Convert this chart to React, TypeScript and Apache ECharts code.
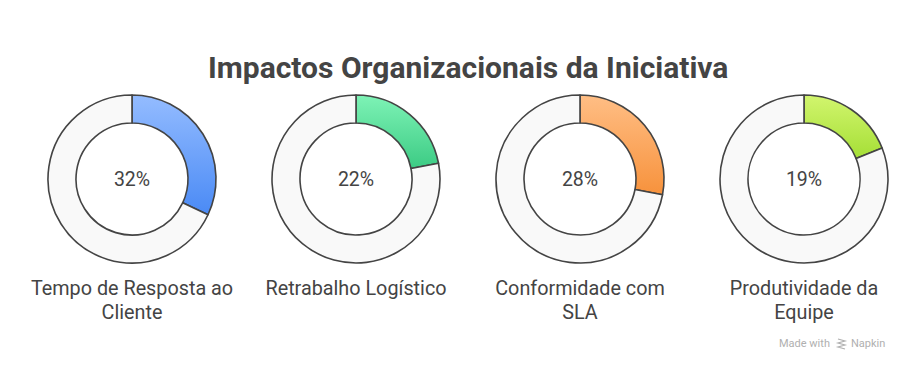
import React, { useEffect, useRef } from "react";
import * as echarts from "echarts";

const title = "Impactos Organizacionais da Iniciativa";
const categories = [
  "Tempo de Resposta ao\nCliente",
  "Retrabalho Logístico",
  "Conformidade com\nSLA",
  "Produtividade da\nEquipe",
];
const values = [32, 22, 28, 19];
const gradTop = ["#94bcff", "#7ef3b6", "#ffbe85", "#d2f56e"];
const gradBottom = ["#4a8af5", "#3ccb84", "#f7923c", "#a5df36"];
const centersX = [132, 356, 580, 804];

export default function App() {
  const ref = useRef<HTMLDivElement>(null);
  useEffect(() => {
    if (!ref.current) return;
    const chart = echarts.init(ref.current, null, { renderer: "svg" });
    const series = values.map((v, i) => ({
      type: "pie",
      center: [centersX[i], 179],
      radius: [56, 84],
      startAngle: 90,
      clockwise: true,
      silent: true,
      labelLine: { show: false },
      data: [
        {
          value: v,
          itemStyle: {
            color: new echarts.graphic.LinearGradient(0, 0, 0, 1, [
              { offset: 0, color: gradTop[i] },
              { offset: 1, color: gradBottom[i] },
            ]),
          },
          label: {
            show: true,
            position: "center",
            formatter: `${v}%`,
            fontSize: 19.5,
            color: "#444",
            fontFamily: "Roboto",
          },
        },
        {
          value: 100 - v,
          itemStyle: { color: "#f9f9f9" },
          label: { show: false },
        },
      ],
      itemStyle: { borderColor: "#444", borderWidth: 1.6 },
    }));
    const titles: any[] = [
      {
        text: title,
        left: 208,
        top: 52,
        padding: 0,
        textStyle: { fontSize: 30, fontWeight: "bold", color: "#444", fontFamily: "Roboto" },
      },
      ...categories.map((c, i) => ({
        text: c,
        left: centersX[i],
        top: 276,
        padding: 0,
        textAlign: "center",
        textStyle: {
          fontSize: 19.8,
          fontWeight: "normal",
          color: "#444",
          fontFamily: "Roboto",
          lineHeight: 24,
        },
      })),
    ];
    chart.setOption({
      animation: false,
      backgroundColor: "#ffffff",
      title: titles,
      series,
      graphic: [
        {
          type: "text",
          left: 779,
          top: 338,
          style: { text: "Made with", fontSize: 11, fill: "#b0b0b0", fontFamily: "Roboto" },
        },
        {
          type: "polyline",
          x: 838,
          y: 339,
          shape: { points: [[0, 0], [7, 2], [0, 4], [7, 6], [0, 8], [7, 10]] },
          style: { stroke: "#b0b0b0", lineWidth: 1.2, fill: null },
        },
        {
          type: "text",
          left: 851,
          top: 338,
          style: { text: "Napkin", fontSize: 11, fill: "#b0b0b0", fontFamily: "Roboto" },
        },
      ],
    });
    return () => chart.dispose();
  }, []);
  return (
    <div
      ref={ref}
      style={{ position: "fixed", left: 0, top: 0, width: 912, height: 372 }}
    />
  );
}
